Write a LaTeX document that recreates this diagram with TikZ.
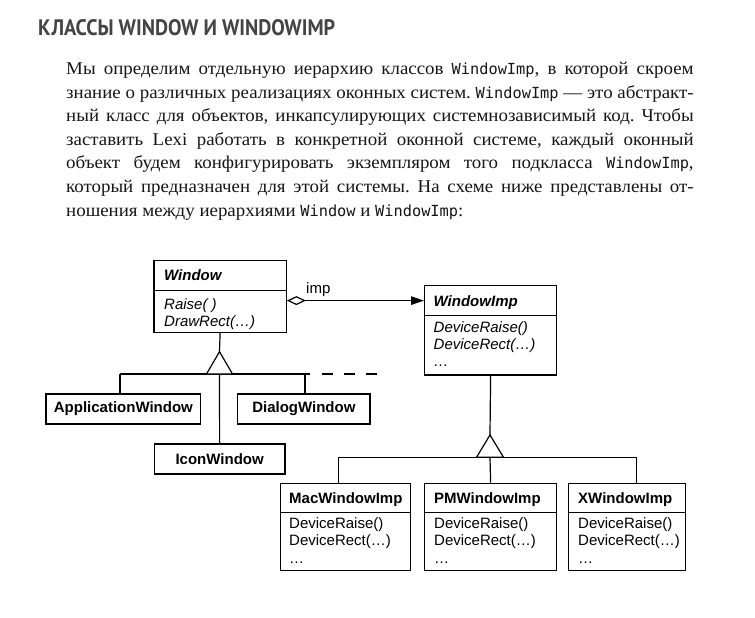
\documentclass[tikz,border=0pt]{standalone}
\usepackage{fontspec}
\usepackage{graphicx}
\setmainfont{Liberation Serif}[FakeStretch=1.05]
\newfontfamily\monofont{DejaVu Sans Mono}
\newfontfamily\diafont{Liberation Sans}
\newfontfamily\titlefont{PT Sans}
\usetikzlibrary{arrows.meta}
\newcommand{\mycode}[1]{{\monofont\fontsize{15.3}{18}\selectfont #1}}
\definecolor{titlegrey}{HTML}{444444}
\definecolor{bodyink}{HTML}{161616}
\frenchspacing
\begin{document}
\begin{tikzpicture}[x=1pt,y=-1pt,
  conn/.style={line width=1.2pt},
  box/.style={draw, line width=1.2pt, fill=white, inner sep=0pt, anchor=north west},
  sbox/.style={draw, line width=1.2pt, fill=white, inner sep=0pt, minimum height=30pt,
    font=\diafont\fontsize{15}{16}\selectfont\bfseries},
  dtext/.style={inner sep=0pt, anchor=base west, font=\diafont\fontsize{15}{16}\selectfont},
  pline/.style={inner sep=0pt, anchor=base west, text=bodyink, font=\fontsize{18}{20}\selectfont},
  tri/.style={draw, line width=1.2pt, fill=white, line join=miter}
]
\useasboundingbox (0,0) rectangle (755,618);
\fill[white] (0,0) rectangle (755,618);

% title
\node[inner sep=0pt, anchor=south west] (title) at (38,36)
  {\color{titlegrey}\resizebox{297pt}{16pt}{\titlefont\bfseries КЛАССЫ WINDOW И WINDOWIMP}};

% paragraph
\node[pline] (p1) at (66,74.4) {\makebox[627.5pt][s]{Мы определим отдельную иерархию классов \mycode{WindowImp}, в которой скроем}};
\node[pline] (p2) at (66,98.0) {\makebox[627.5pt][s]{знание о различных реализациях оконных систем. \mycode{WindowImp} — это абстракт-}};
\node[pline] (p3) at (66,121.6) {\makebox[627.5pt][s]{ный класс для объектов, инкапсулирующих системнозависимый код. Чтобы}};
\node[pline] (p4) at (66,145.2) {\makebox[627.5pt][s]{заставить Lexi работать в конкретной оконной системе, каждый оконный}};
\node[pline] (p5) at (66,168.8) {\makebox[627.5pt][s]{объект будем конфигурировать экземпляром того подкласса \mycode{WindowImp},}};
\node[pline] (p6) at (66,192.4) {\makebox[627.5pt][s]{который предназначен для этой системы. На схеме ниже представлены от-}};
\node[pline] (p7) at (66,216.0) {ношения между иерархиями \mycode{Window} и \mycode{WindowImp}:};

% ---------- Window ----------
\node[box, minimum width=132.4pt, minimum height=29.5pt] (winH) at (153.3,260) {};
\node[box, minimum width=132.4pt, minimum height=42.5pt] (winB) at (153.3,289.5) {};
\node[dtext] (winHt) at (164,280) {\bfseries\itshape Window};
\node[dtext] (winO1) at (164,309.5) {\itshape Raise( )};
\node[dtext] (winO2) at (164,326) {\itshape DrawRect(…)};

% ---------- WindowImp ----------
\node[box, minimum width=132pt, minimum height=30pt] (wimpH) at (424,285) {};
\node[box, minimum width=132pt, minimum height=59.3pt] (wimpB) at (424,315) {};
\node[dtext] (wimpHt) at (433.5,306.5) {\bfseries\itshape WindowImp};
\node[dtext] (wimpO1) at (433.5,332) {\itshape DeviceRaise()};
\node[dtext] (wimpO2) at (433.5,349) {\itshape DeviceRect(…)};
\node[dtext] (wimpO3) at (433.5,366) {\itshape …};

% aggregation
\draw[conn, {Diamond[open,length=19pt,width=9pt]}-{Triangle[length=13pt,width=8.5pt]}]
  (winB.east |- wimpH.west) -- (wimpH.west);
\node[dtext] (imp) at (306,293.5) {imp};

% ---------- Window subclasses ----------
\node[sbox, minimum width=154.7pt] (appw) at (123.35,409) {ApplicationWindow};
\node[sbox, minimum width=132.3pt] (dlgw) at (303.85,409) {DialogWindow};
\node[sbox, minimum width=130.7pt] (iconw) at (219.65,459) {IconWindow};

\coordinate (t1a) at (219.5,351.7);
\coordinate (t1b) at (219.5,374);
\coordinate (h1l) at (120,374);
\coordinate (h1r) at (310,374);
\coordinate (h1d) at (305,374);
\coordinate (d1s) at (321.7,374);
\coordinate (d1e) at (377.3,374);
\draw[conn] (winB.south) -- (t1a);
\draw[conn] (h1l) -- (h1r);
\draw[conn] (h1l) -- (h1l |- appw.north);
\draw[conn] (h1d) -- (h1d |- dlgw.north);
\draw[conn] (t1b) -- (iconw.north);
\draw[conn, dash pattern=on 11pt off 11.3pt] (d1s) -- (d1e);
\draw[tri] (t1a) -- ++(-13,22.3) -- ++(26,0) -- cycle;

% ---------- WindowImp subclasses ----------
\node[box, minimum width=130pt, minimum height=29.5pt] (macH) at (280,482.7) {};
\node[box, minimum width=130pt, minimum height=57.8pt] (macB) at (280,512.2) {};
\node[dtext] (macHt) at (289,503.5) {\bfseries MacWindowImp};
\node[dtext] (macO1) at (289,528.5) {DeviceRaise()};
\node[dtext] (macO2) at (289,545.5) {DeviceRect(…)};
\node[dtext] (macO3) at (289,563) {…};

\node[box, minimum width=132pt, minimum height=29.5pt] (pmH) at (424,482.7) {};
\node[box, minimum width=132pt, minimum height=57.8pt] (pmB) at (424,512.2) {};
\node[dtext] (pmHt) at (434,503.5) {\bfseries PMWindowImp};
\node[dtext] (pmO1) at (434,528.5) {DeviceRaise()};
\node[dtext] (pmO2) at (434,545.5) {DeviceRect(…)};
\node[dtext] (pmO3) at (434,563) {…};

\node[box, minimum width=117pt, minimum height=29.5pt] (xH) at (568,482.7) {};
\node[box, minimum width=117pt, minimum height=57.8pt] (xB) at (568,512.2) {};
\node[dtext] (xHt) at (578,503.5) {\bfseries XWindowImp};
\node[dtext] (xO1) at (578,528.5) {DeviceRaise()};
\node[dtext] (xO2) at (578,545.5) {DeviceRect(…)};
\node[dtext] (xO3) at (578,563) {…};

\coordinate (t2a) at (490,435);
\coordinate (t2b) at (490,457.3);
\coordinate (h2l) at (338.3,457.3);
\coordinate (h2r) at (636.7,457.3);
\draw[conn] (wimpB.south) -- (t2a);
\draw[conn] (h2l) -- (h2r);
\draw[conn] (h2l) -- (h2l |- macH.north);
\draw[conn] (t2b) -- (pmH.north);
\draw[conn] (h2r) -- (h2r |- xH.north);
\draw[tri] (t2a) -- ++(-13.5,22.3) -- ++(27,0) -- cycle;
\end{tikzpicture}
\end{document}
